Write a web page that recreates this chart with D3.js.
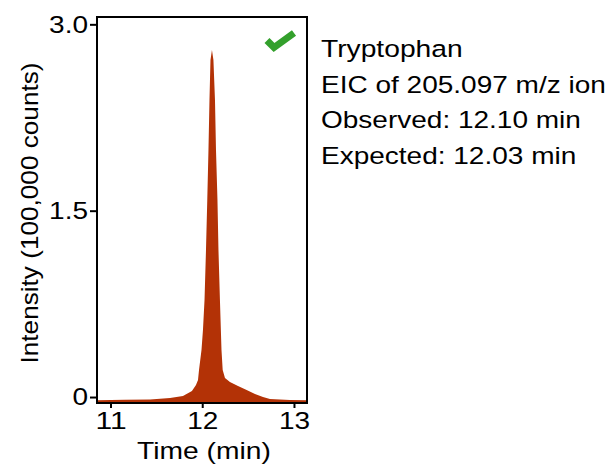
<!DOCTYPE html>
<html>
<head>
<meta charset="utf-8">
<script src="https://cdn.jsdelivr.net/npm/d3@7"></script>
<style>
  html, body { margin: 0; padding: 0; background: #fff; }
  svg { display: block; }
  text { font-family: "Liberation Sans", Arial, sans-serif; fill: #000; }
</style>
</head>
<body>
<svg id="chart" width="615" height="466"></svg>
<script>
// Extracted ion chromatogram (EIC) for tryptophan, m/z 205.097
const timeMin = [10.853, 11.158, 11.431, 11.649, 11.790, 11.888, 11.932, 11.954, 11.965,
  11.992, 12.008, 12.025, 12.041, 12.055, 12.068, 12.079, 12.090, 12.106,
  12.122, 12.139, 12.150, 12.166, 12.177, 12.193, 12.210, 12.223, 12.248,
  12.302, 12.390, 12.484, 12.575, 12.662, 12.738, 12.956, 13.142];
const intensity = [-0.025, -0.022, -0.020, -0.008, 0.008, 0.048, 0.097, 0.137, 0.217,
  0.378, 0.539, 0.781, 1.183, 1.586, 1.988, 2.391, 2.713, 2.793,
  2.713, 2.391, 1.988, 1.586, 1.183, 0.781, 0.378, 0.217, 0.153,
  0.121, 0.088, 0.056, 0.024, 0.000, -0.016, -0.024, -0.025];

const xTicks = [11, 12, 13];
const xTickLabels = ["11", "12", "13"];
const yTicks = [0, 1.5, 3.0];
const yTickLabels = ["0", "1.5", "3.0"];

const xTitle = "Time (min)";
const yTitle = "Intensity (100,000 counts)";
const infoLines = ["Tryptophan", "EIC of 205.097 m/z ion", "Observed: 12.10 min", "Expected: 12.03 min"];

const peakColor = "#b33206";
const checkColor = "#33a02c";
const fontSize = 24.5;

const svg = d3.select("#chart");
const panel = { left: 97, right: 307, top: 17, bottom: 403 };

const x = d3.scaleLinear().domain([10.853, 13.142]).range([panel.left, panel.right]);
const y = d3.scaleLinear().domain([-0.048, 3.059]).range([panel.bottom, panel.top]);

const series = timeMin.map((t, i) => ({ t, v: intensity[i] }));

// filled peak
const area = d3.area()
  .x(d => x(d.t))
  .y0(y(y.domain()[0]))
  .y1(d => y(d.v))
  .curve(d3.curveLinear);

svg.append("path")
  .datum(series)
  .attr("d", area)
  .attr("fill", peakColor);

// panel frame
svg.append("rect")
  .attr("x", panel.left).attr("y", panel.top)
  .attr("width", panel.right - panel.left)
  .attr("height", panel.bottom - panel.top)
  .attr("fill", "none").attr("stroke", "#000").attr("stroke-width", 2);

// Arial-style advance widths, used to set the wide-set lettering
const adv = {
  "0": .556, "1": .556, "2": .556, "3": .556, "4": .556, "5": .556, "6": .556, "7": .556, "8": .556, "9": .556,
  ".": .278, ",": .278, ":": .278, " ": .278, "(": .333, ")": .333, "/": .278,
  a: .556, b: .556, c: .5, d: .556, e: .556, f: .278, h: .556, i: .222, m: .833, n: .556, o: .556,
  p: .556, r: .333, s: .5, t: .278, u: .556, v: .5, x: .5, y: .5, z: .5,
  C: .722, E: .667, I: .278, O: .778, T: .611
};
const emWidth = s => Array.from(s).reduce((w, ch) => w + (adv[ch] ?? .556), 0);

function setWidth(sel) {
  sel.attr("textLength", function () { return emWidth(this.textContent) * 28; })
     .attr("lengthAdjust", "spacingAndGlyphs");
}

// axes
const xAxis = d3.axisBottom(x)
  .tickValues(xTicks)
  .tickFormat((d, i) => xTickLabels[i])
  .tickSizeInner(5).tickSizeOuter(0).tickPadding(4);

const yAxis = d3.axisLeft(y)
  .tickValues(yTicks)
  .tickFormat((d, i) => yTickLabels[i])
  .tickSizeInner(7).tickSizeOuter(0).tickPadding(2);

function styleAxis(g) {
  g.select(".domain").remove();
  g.selectAll(".tick line").attr("stroke", "#000").attr("stroke-width", 2);
  g.selectAll(".tick text")
    .attr("font-size", fontSize)
    .attr("font-family", "'Liberation Sans', Arial, sans-serif")
    .attr("fill", "#000")
    .call(setWidth);
}

svg.append("g")
  .attr("transform", `translate(0,${panel.bottom})`)
  .call(xAxis)
  .call(styleAxis);

svg.append("g")
  .attr("transform", `translate(${panel.left},0)`)
  .call(yAxis)
  .call(styleAxis);

// axis titles
svg.append("text")
  .attr("x", (panel.left + panel.right) / 2 + 2)
  .attr("y", 459)
  .attr("text-anchor", "middle")
  .attr("font-size", fontSize)
  .text(xTitle)
  .call(setWidth);

svg.append("text")
  .attr("transform", `translate(38,${(panel.top + panel.bottom) / 2 + 3}) rotate(-90)`)
  .attr("text-anchor", "middle")
  .attr("font-size", fontSize)
  .text(yTitle)
  .attr("textLength", 301)
  .attr("lengthAdjust", "spacingAndGlyphs");

// identification check mark
svg.append("path")
  .attr("d", d3.line()([[267, 40.5], [274, 47.5], [294, 33]]))
  .attr("fill", "none")
  .attr("stroke", checkColor)
  .attr("stroke-width", 7)
  .attr("stroke-linejoin", "miter")
  .attr("stroke-linecap", "butt");

// compound annotation
svg.append("g")
  .selectAll("text")
  .data(infoLines)
  .join("text")
  .attr("x", 321)
  .attr("y", (d, i) => 57 + i * 35.5)
  .attr("font-size", fontSize)
  .text(d => d)
  .call(setWidth);
</script>
</body>
</html>
